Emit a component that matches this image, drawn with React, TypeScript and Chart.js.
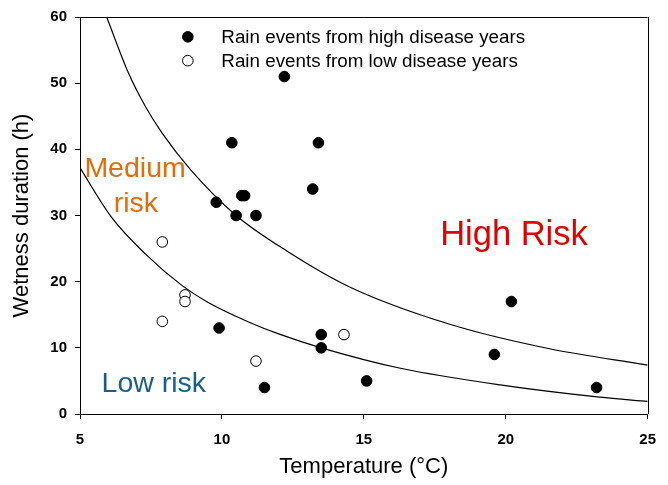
import React, { useEffect, useRef } from "react";
import { Chart, registerables } from "chart.js";

Chart.register(...registerables);

// Filled circles: rain events from high disease years
const highTemp = [9.8, 10.35, 10.7, 10.8, 10.5, 11.2, 12.2, 13.4, 13.2, 9.9, 11.5, 13.5, 13.5, 15.1, 19.6, 20.2, 23.2];
const highWet = [32, 41, 33, 33, 30, 30, 51, 41, 34, 13, 4, 12, 10, 5, 9, 17, 4];

// Open circles: rain events from low disease years
const lowTemp = [7.9, 8.7, 8.7, 7.9, 11.2, 14.3];
const lowWet = [26, 18, 17, 14, 8, 12];

// Upper risk boundary (medium / high)
const upperTemp = [5.94, 6.7, 7.3, 7.9, 8.9, 10.5, 12.3, 14.5, 18, 21.5, 25];
const upperWet = [60, 51.6, 46.5, 42.4, 36.9, 30, 24.6, 19.2, 13.6, 9.9, 7.4];

// Lower risk boundary (low / medium)
const lowerTemp = [5, 6.1, 7.3, 8.6, 9.5, 11, 12, 13.5, 16.25, 19.8, 23.3, 25];
const lowerWet = [37.2, 29.8, 24.2, 19.4, 16.9, 13.8, 12.1, 10, 6.95, 4.4, 2.55, 1.9];

const xTicks = [5, 10, 15, 20, 25];
const yTicks = [0, 10, 20, 30, 40, 50, 60];

const legendLabels = ["Rain events from high disease years", "Rain events from low disease years"];
const xTitle = "Temperature (°C)";
const yTitle = "Wetness duration (h)";

const FONT = "'Liberation Sans', Arial, Helvetica, sans-serif";

const toPoints = (xs: number[], ys: number[]) => xs.map((x, i) => ({ x, y: ys[i] }));

const overlayPlugin = {
  id: "overlay",
  afterDatasetsDraw(chart: any) {
    const { ctx, chartArea, scales } = chart;
    const xs = scales.x;
    const ys = scales.y;
    ctx.save();
    // top and right frame
    ctx.strokeStyle = "#000";
    ctx.lineWidth = 1;
    ctx.beginPath();
    ctx.moveTo(chartArea.left, Math.round(chartArea.top) + 0.5);
    ctx.lineTo(chartArea.right, Math.round(chartArea.top) + 0.5);
    ctx.moveTo(Math.round(chartArea.right) + 0.5, chartArea.top);
    ctx.lineTo(Math.round(chartArea.right) + 0.5, chartArea.bottom);
    ctx.stroke();

    // legend inside plot
    const lx = xs.getPixelForValue(8.8);
    const entries = [
      { label: chart.data.datasets[0].label, fill: "#000", y: ys.getPixelForValue(57.0) },
      { label: chart.data.datasets[1].label, fill: "#fff", y: ys.getPixelForValue(53.4) },
    ];
    ctx.font = `18.8px ${FONT}`;
    ctx.textBaseline = "middle";
    ctx.textAlign = "left";
    entries.forEach((e) => {
      ctx.beginPath();
      ctx.arc(lx, e.y, 5.3, 0, Math.PI * 2);
      ctx.fillStyle = e.fill;
      ctx.fill();
      ctx.strokeStyle = "#000";
      ctx.lineWidth = 1;
      ctx.stroke();
      ctx.fillStyle = "#000";
      ctx.fillText(e.label, lx + 33.5, e.y + 1);
    });

    // region labels
    ctx.textBaseline = "alphabetic";
    ctx.textAlign = "center";
    ctx.fillStyle = "#E46C0A";
    ctx.font = `28.5px ${FONT}`;
    ctx.fillText("Medium", xs.getPixelForValue(6.94), ys.getPixelForValue(35.8));
    ctx.fillText("risk", xs.getPixelForValue(6.97), ys.getPixelForValue(30.6));
    ctx.fillStyle = "#E00000";
    ctx.font = `34.5px ${FONT}`;
    ctx.fillText("High Risk", xs.getPixelForValue(20.29), ys.getPixelForValue(25.6));
    ctx.fillStyle = "#1B5E8C";
    ctx.font = `28.5px ${FONT}`;
    ctx.textAlign = "left";
    ctx.fillText("Low risk", xs.getPixelForValue(5.76), ys.getPixelForValue(3.25));
    ctx.restore();
  },
};

export default function App() {
  const ref = useRef<HTMLCanvasElement | null>(null);

  useEffect(() => {
    document.body.style.margin = "0";
    const canvas = ref.current;
    if (!canvas) return;
    const chart = new Chart(canvas, {
      type: "scatter",
      data: {
        datasets: [
          {
            label: legendLabels[0],
            data: toPoints(highTemp, highWet),
            pointRadius: 5.3,
            pointBackgroundColor: "#000",
            pointBorderColor: "#000",
            pointBorderWidth: 1,
            showLine: false,
          },
          {
            label: legendLabels[1],
            data: toPoints(lowTemp, lowWet),
            pointRadius: 5.3,
            pointBackgroundColor: "#fff",
            pointBorderColor: "#000",
            pointBorderWidth: 1,
            showLine: false,
          },
          {
            label: "upper",
            data: toPoints(upperTemp, upperWet),
            showLine: true,
            pointRadius: 0,
            borderColor: "#000",
            borderWidth: 1.2,
            cubicInterpolationMode: "monotone",
          },
          {
            label: "lower",
            data: toPoints(lowerTemp, lowerWet),
            showLine: true,
            pointRadius: 0,
            borderColor: "#000",
            borderWidth: 1.2,
            cubicInterpolationMode: "monotone",
          },
        ],
      },
      options: {
        responsive: false,
        animation: false,
        layout: { padding: { left: 0, right: 19, top: 15, bottom: 0 } },
        plugins: {
          legend: { display: false },
          tooltip: { enabled: false },
        },
        scales: {
          x: {
            type: "linear",
            min: 5,
            max: 25,
            afterBuildTicks: (s: any) => {
              s.ticks = xTicks.map((v) => ({ value: v }));
            },
            afterFit: (s: any) => {
              s.height = 71;
            },
            grid: { display: true, drawOnChartArea: false, drawTicks: true, tickLength: 5, color: "#000" },
            border: { display: true, color: "#000", width: 1 },
            ticks: {
              color: "#000",
              font: { family: FONT, size: 15, weight: "bold" },
              padding: 12,
              maxRotation: 0,
            },
            title: {
              display: true,
              text: xTitle,
              color: "#000",
              font: { family: FONT, size: 22 },
              padding: { top: 0, bottom: 5 },
            },
          },
          y: {
            type: "linear",
            min: 0,
            max: 60,
            afterBuildTicks: (s: any) => {
              s.ticks = yTicks.map((v) => ({ value: v }));
            },
            afterFit: (s: any) => {
              s.width = 80;
            },
            grid: { display: true, drawOnChartArea: false, drawTicks: true, tickLength: 5, color: "#000" },
            border: { display: true, color: "#000", width: 1 },
            ticks: {
              color: "#000",
              font: { family: FONT, size: 15, weight: "bold" },
              padding: 8,
            },
            title: {
              display: true,
              text: yTitle,
              color: "#000",
              font: { family: FONT, size: 22 },
              padding: { top: 9, bottom: 0 },
            },
          },
        },
      },
      plugins: [overlayPlugin],
    } as any);
    return () => chart.destroy();
  }, []);

  return (
    <div style={{ width: 668, height: 485 }}>
      <canvas ref={ref} width={668} height={485} style={{ display: "block" }} />
    </div>
  );
}
